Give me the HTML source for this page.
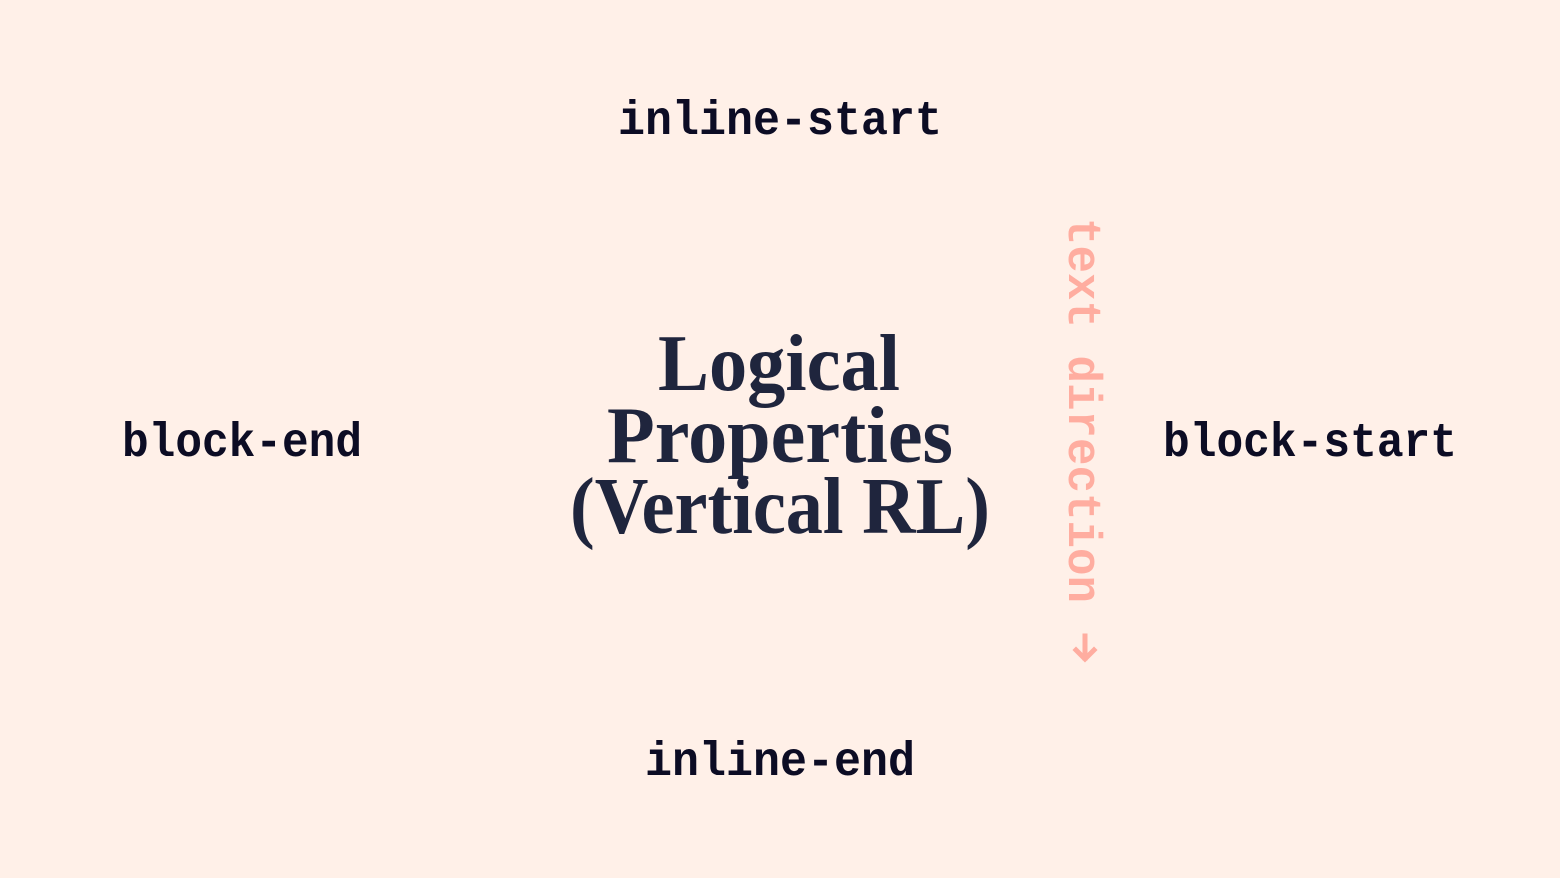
<!DOCTYPE html>
<html><head><meta charset="utf-8"><style>
html,body{margin:0;padding:0;background:#FFF0E8;}
svg{display:block}
.m{font-family:"Liberation Mono",monospace;font-weight:bold;font-size:48px;fill:#0c0c24}
.t{font-family:"Liberation Serif",serif;font-weight:bold;font-size:80px;fill:#1f253d}
</style></head><body>
<svg width="1560" height="878" viewBox="0 0 1560 878" xmlns="http://www.w3.org/2000/svg">
<rect width="1560" height="878" fill="#FFF0E8"/>
<text class="m" x="618" y="134" textLength="324" lengthAdjust="spacingAndGlyphs">inline-start</text>
<text class="m" x="645" y="775" textLength="270" lengthAdjust="spacingAndGlyphs">inline-end</text>
<text class="m" x="122" y="456" textLength="240" lengthAdjust="spacingAndGlyphs">block-end</text>
<text class="m" x="1163" y="456" textLength="294" lengthAdjust="spacingAndGlyphs">block-start</text>
<text class="t" x="658" y="390" textLength="242" lengthAdjust="spacingAndGlyphs">Logical</text>
<text class="t" x="607" y="462" textLength="346" lengthAdjust="spacingAndGlyphs">Properties</text>
<text class="t" x="570" y="533" textLength="420" lengthAdjust="spacingAndGlyphs">(Vertical RL)</text>
<g transform="translate(1069,218) rotate(90)">
<text x="0" y="0" style="font-family:'Liberation Mono',monospace;font-weight:bold;font-size:47px;fill:#FFADA0" textLength="385" lengthAdjust="spacingAndGlyphs">text direction</text>
</g>
<g stroke="#FFADA0" stroke-width="5" fill="none" stroke-linecap="square">
<line x1="1085" y1="636" x2="1085" y2="658"/>
<polyline points="1076,650 1085,659 1094,650"/>
</g>
</svg>
</body></html>
